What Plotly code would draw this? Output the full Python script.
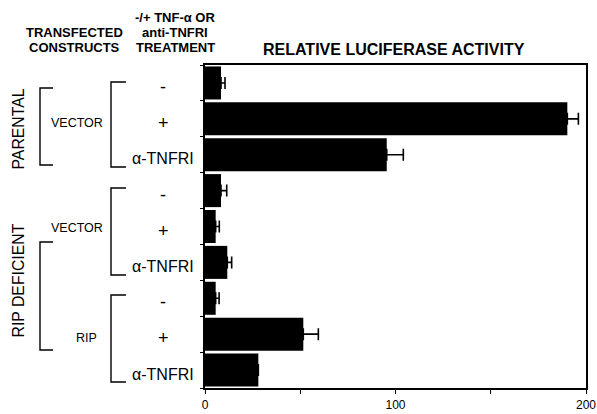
import plotly.graph_objects as go

# ---- data ----
treatments = ["-", "+", "α-TNFRI", "-", "+", "α-TNFRI", "-", "+", "α-TNFRI"]
activity = [8.4, 190.2, 95.4, 8.4, 5.6, 11.7, 5.6, 51.6, 28.0]
activity_err = [2.1, 5.8, 8.7, 3.0, 1.9, 2.3, 1.8, 7.9, 0.0]
x_tickvals = [0, 50, 100, 150, 200]
x_ticktext = ["0", "", "100", "", "200"]

# ---- layout geometry (pixels, in window coordinates) ----
W, H = 597, 414
L, R, T, B = 205, 586, 65, 388

def px(x):
    return (x - L) / (R - L)

def py(y):
    return (B - y) / (B - T)

FONT = "Liberation Sans, Arial, Helvetica, sans-serif"
positions = list(range(len(activity)))

fig = go.Figure()
fig.add_trace(go.Bar(
    x=activity,
    y=positions,
    orientation="h",
    marker=dict(color="black", line=dict(width=0)),
    error_x=dict(type="data", array=activity_err, arrayminus=[0] * len(activity_err),
                 symmetric=False, color="black", thickness=1.6, width=6),
    hoverinfo="x",
))

annotations = []

def txt(text, x, y, size, bold=False, angle=0, xanchor="center"):
    if bold:
        text = "<b>" + text + "</b>"
    annotations.append(dict(text=text, x=px(x), y=py(y), xref="paper", yref="paper",
                            xanchor=xanchor, yanchor="middle", showarrow=False,
                            textangle=angle, font=dict(family=FONT, size=size, color="black")))

# headers
txt("TRANSFECTED", 74, 33, 13, bold=True)
txt("CONSTRUCTS", 74, 47.5, 13, bold=True)
txt("-/+ TNF-α OR", 175, 17, 13, bold=True)
txt("anti-TNFRI", 175, 33, 13, bold=True)
txt("TREATMENT", 175, 47.5, 13, bold=True)
txt("RELATIVE LUCIFERASE ACTIVITY", 394, 49, 16, bold=True)

# group labels
txt("PARENTAL", 17.5, 129, 15.8, angle=-90)
txt("RIP DEFICIENT", 17.5, 281, 15.8, angle=-90)
txt("VECTOR", 77, 123, 12.5)
txt("VECTOR", 77, 228, 12.5)
txt("RIP", 87, 338, 12.5)

# treatment labels from data
for i, t in enumerate(treatments):
    size = 18 if t in ("-", "+") else 16
    annotations.append(dict(text=t, x=px(163), y=i, xref="paper", yref="y",
                            xanchor="center", yanchor="middle", showarrow=False, yshift=-4,
                            font=dict(family=FONT, size=size, color="black")))

shapes = []

def bracket(xv, xh, y0, y1):
    path = f"M {px(xh)},{py(y0)} L {px(xv)},{py(y0)} L {px(xv)},{py(y1)} L {px(xh)},{py(y1)}"
    shapes.append(dict(type="path", path=path, xref="paper", yref="paper",
                       line=dict(color="black", width=1.4)))

bracket(40, 53, 88, 165)
bracket(40, 53, 242, 350)
bracket(111, 126, 82, 167)
bracket(111, 126, 188, 275)
bracket(111, 126, 295, 382)

fig.update_layout(
    width=W, height=H,
    margin=dict(l=L, r=W - R, t=T, b=H - B),
    paper_bgcolor="white", plot_bgcolor="white",
    showlegend=False,
    bargap=0.08,
    annotations=annotations,
    shapes=shapes,
    font=dict(family=FONT, color="black"),
)
fig.update_xaxes(range=[0, 200], tickvals=x_tickvals, ticktext=x_ticktext,
                 ticks="outside", ticklen=4, tickwidth=1.4, tickcolor="black",
                 ticklabelstandoff=1, automargin=False,
                 showline=True, linecolor="black", linewidth=1.6, mirror=True,
                 showgrid=False, zeroline=False,
                 tickfont=dict(family=FONT, size=12, color="black"))
fig.update_yaxes(range=[8.5, -0.5], tickvals=[i + 0.5 for i in range(-1, 9)],
                 showticklabels=False, ticks="outside", ticklen=3, tickwidth=1.4,
                 automargin=False,
                 tickcolor="black", showline=True, linecolor="black", linewidth=1.6,
                 mirror=True, showgrid=False, zeroline=False)

fig.write_html("out.html", config={"displayModeBar": False},
               post_script="document.body.style.margin='0';document.body.style.overflow='hidden';")
